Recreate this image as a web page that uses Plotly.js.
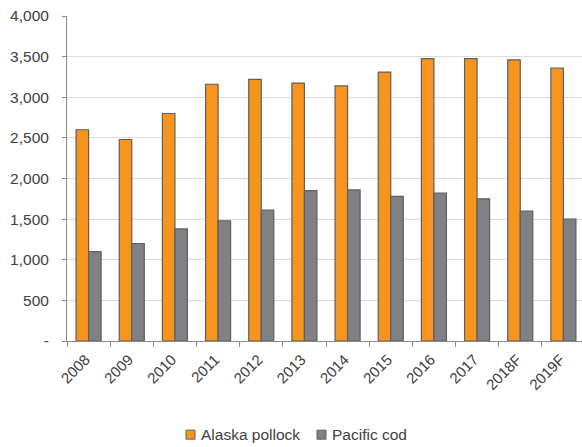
<!DOCTYPE html>
<html>
<head>
<meta charset="utf-8">
<script src="https://cdn.plot.ly/plotly-3.0.1.min.js"></script>
<style>
  html, body { margin: 0; padding: 0; overflow: hidden; background: #fff; }
  #chart { width: 585px; height: 447px; }
</style>
</head>
<body>
<div id="chart"></div>
<script>
// Annual harvest, thousand metric tons
const years = ['2008', '2009', '2010', '2011', '2012', '2013', '2014', '2015', '2016', '2017', '2018F', '2019F'];
const alaskaPollock = [2600, 2480, 2800, 3160, 3220, 3175, 3140, 3310, 3475, 3475, 3460, 3360];
const pacificCod = [1100, 1200, 1380, 1480, 1610, 1850, 1860, 1780, 1820, 1750, 1600, 1500];
const seriesNames = ['Alaska pollock', 'Pacific cod'];

const yTickVals = [0, 500, 1000, 1500, 2000, 2500, 3000, 3500, 4000];
const yTickText = ['-', '500', '1,000', '1,500', '2,000', '2,500', '3,000', '3,500', '4,000'];

const colors = ['#F7941E', '#808184'];
const textColor = '#404040';
const outlineColor = '#5f5f5f';
const outline = { color: outlineColor, width: 1.2 };

// Figure geometry (pixels)
const W = 585, H = 447;
const M = { l: 67, r: 0, t: 16, b: 106 };
const plotW = W - M.l - M.r, plotH = H - M.t - M.b;
const px = x => (x - M.l) / plotW;          // pixel x -> paper x
const py = y => (H - M.b - y) / plotH;      // pixel y -> paper y

const traces = [
  { type: 'bar', name: seriesNames[0], x: years, y: alaskaPollock,
    marker: { color: colors[0], line: outline } },
  { type: 'bar', name: seriesNames[1], x: years, y: pacificCod,
    marker: { color: colors[1], line: outline } }
];

// Compact legend: small outlined swatch followed by the series name
const legendItems = [
  { swatchX: 186, textX: 199 },
  { swatchX: 317, textX: 330 }
];
const legendY = 434.7, sw = 9;
const shapes = legendItems.map((it, i) => ({
  type: 'rect', xref: 'paper', yref: 'paper', layer: 'above',
  x0: px(it.swatchX), x1: px(it.swatchX + sw),
  y0: py(legendY + sw / 2), y1: py(legendY - sw / 2),
  fillcolor: colors[i], line: { color: outlineColor, width: 1 }
}));
const annotations = legendItems.map((it, i) => ({
  xref: 'paper', yref: 'paper', x: px(it.textX), y: py(legendY),
  xanchor: 'left', yanchor: 'middle', showarrow: false,
  text: seriesNames[i], font: { size: 15.5, color: textColor }
}));

const layout = {
  width: W, height: H,
  margin: M,
  paper_bgcolor: '#ffffff', plot_bgcolor: '#ffffff',
  font: { family: 'Liberation Sans, Arial, sans-serif', size: 15, color: textColor },
  barmode: 'group', bargap: 0.42, bargroupgap: 0,
  showlegend: false,
  shapes: shapes,
  annotations: annotations,
  xaxis: {
    type: 'category', tickangle: -45, tickson: 'boundaries',
    ticks: 'outside', ticklen: 5, tickcolor: '#8a8a8a',
    showline: true, linecolor: '#8a8a8a', linewidth: 1,
    showgrid: false, tickfont: { size: 15, color: textColor },
    ticklabelshift: -3, ticklabelstandoff: 3,
    range: [-0.5, 11.5]
  },
  yaxis: {
    range: [0, 4000], tickvals: yTickVals, ticktext: yTickText,
    ticks: 'outside', ticklen: 4, tickcolor: '#8a8a8a',
    showline: true, linecolor: '#8a8a8a', linewidth: 1,
    showgrid: true, gridcolor: '#dcdcdc', gridwidth: 1,
    zeroline: false, ticklabelstandoff: 10,
    tickfont: { size: 15.5, color: textColor }
  }
};

Plotly.newPlot('chart', traces, layout, { staticPlot: true, displayModeBar: false });
</script>
</body>
</html>
